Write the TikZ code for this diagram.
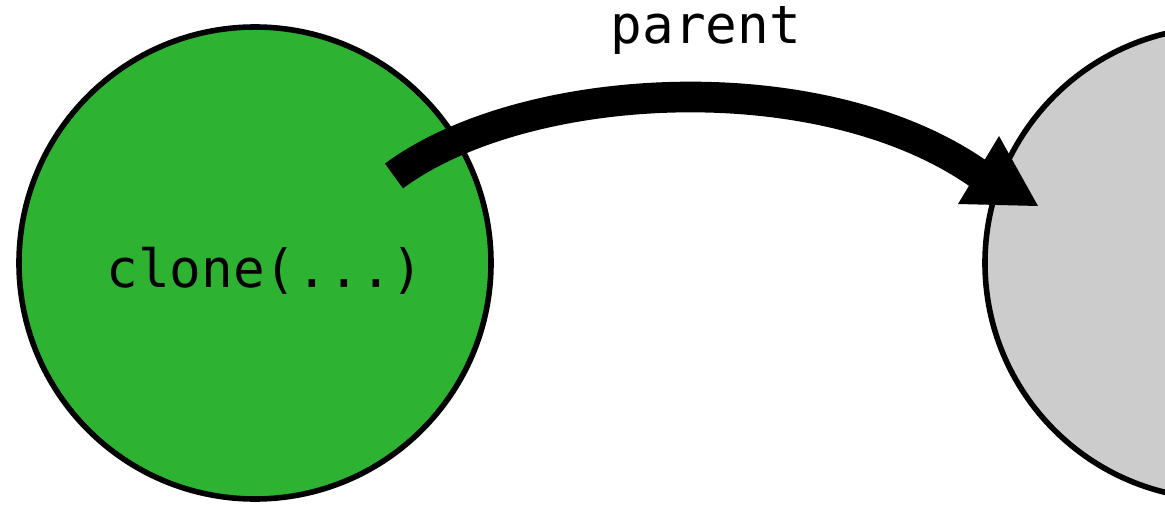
\documentclass[tikz,border=0pt]{standalone}
\usepackage{fontspec}
\setmonofont{DejaVu Sans Mono}
\definecolor{cgreen}{RGB}{46,178,50}
\definecolor{cgray}{RGB}{204,204,204}
\begin{document}
\begin{tikzpicture}[x=0.75pt,y=-0.75pt,
  ball/.style={circle,draw=black,line width=4.2pt,minimum size=472*0.75pt,inner sep=0pt},
  lbl/.style={font=\ttfamily\fontsize{39.5}{44}\selectfont,inner sep=0pt}]
\useasboundingbox (0,0) rectangle (1165,507);
\begin{scope}
\clip (0,0) rectangle (1165,507);
\node[ball,fill=cgreen] (clone) at (255,263) {};
\node[ball,fill=cgray] (parentnode) at (1221,263) {};
\end{scope}
\node[lbl] (clonetext) at (265,271) {clone(...)};
\node[lbl] (parenttext) at (706,30) {parent};
\coordinate (s) at (394,176);
\coordinate (e) at (1002,192);
\draw[line width=23pt] (s) .. controls (530,75) and (850,61) .. (e);
\fill (958,204) -- (999,136) -- (1038,206) -- cycle;
\end{tikzpicture}
\end{document}
